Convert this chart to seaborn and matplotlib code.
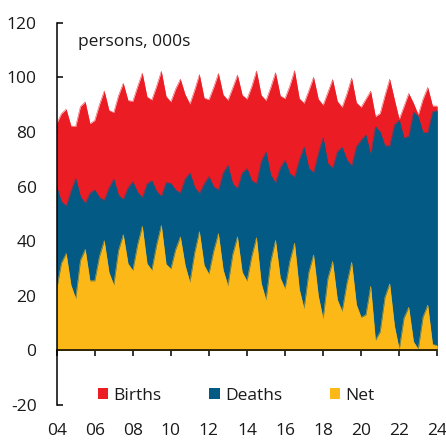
import numpy as np
import pandas as pd
import matplotlib
matplotlib.use("Agg")
import matplotlib.pyplot as plt
import seaborn as sns
from matplotlib.patches import Patch

# Quarterly data, 2004 to 2024 (thousands of persons)
births = [83.0, 86.7, 88.3, 82.2, 82.0, 89.3, 91.0, 83.0, 84.2, 90.0,
          95.0, 87.9, 87.1, 93.3, 97.8, 91.5, 91.2, 96.5, 101.5, 92.8,
          91.7, 96.7, 102.2, 93.0, 91.0, 95.7, 99.3, 93.7, 90.2, 95.3,
          101.0, 92.4, 91.8, 96.3, 101.4, 93.6, 91.6, 96.1, 100.8, 93.5,
          92.0, 96.6, 102.3, 93.4, 91.5, 96.3, 101.7, 93.2, 92.2, 96.8,
          102.4, 92.2, 90.5, 95.1, 100.0, 92.0, 89.8, 94.4, 99.2, 91.2,
          89.0, 93.9, 99.7, 90.7, 89.0, 92.0, 94.9, 85.6, 86.8, 93.3,
          99.3, 91.8, 84.6, 89.3, 94.1, 90.5, 86.2, 92.0, 96.3, 89.5,
          89.5]
deaths = [60.0, 54.5, 52.9, 58.2, 63.0, 56.3, 53.9, 57.6, 58.8, 56.0,
          55.0, 59.5, 62.8, 56.8, 55.3, 59.6, 61.8, 58.0, 56.0, 61.0,
          62.2, 58.3, 56.4, 61.5, 61.2, 58.8, 57.6, 62.8, 65.0, 59.8,
          57.5, 61.0, 63.7, 60.0, 58.7, 65.0, 67.8, 61.0, 59.3, 65.0,
          66.6, 62.2, 61.1, 69.2, 72.7, 64.2, 61.4, 66.9, 69.6, 64.8,
          63.4, 69.8, 74.5, 66.7, 65.1, 72.2, 78.0, 68.5, 66.7, 72.8,
          74.4, 69.8, 67.6, 74.6, 77.0, 78.9, 71.6, 82.0, 80.0, 74.9,
          74.9, 82.6, 84.4, 77.8, 78.4, 87.3, 85.6, 79.8, 79.8, 87.4,
          87.8]
net = [22.5, 32.0, 35.5, 24.0, 19.0, 33.0, 37.0, 25.5, 25.5, 34.5,
       40.2, 28.6, 24.0, 36.6, 42.4, 31.8, 29.3, 38.6, 45.5, 31.8,
       29.4, 38.6, 45.8, 31.6, 29.9, 36.9, 41.6, 31.2, 25.0, 35.7,
       43.5, 31.2, 28.0, 36.4, 42.8, 29.5, 23.7, 35.1, 41.6, 28.7,
       25.4, 34.4, 41.3, 24.6, 18.5, 32.6, 40.3, 26.6, 22.6, 32.6,
       39.3, 22.4, 15.3, 28.6, 35.0, 20.0, 11.6, 26.3, 32.6, 18.6,
       14.3, 24.5, 32.3, 16.8, 12.1, 13.1, 23.5, 3.7, 6.9, 19.5,
       24.4, 9.0, 0.4, 11.9, 15.8, 3.2, 0.5, 12.3, 16.6, 2.2,
       1.8]
series_names = ["Births", "Deaths", "Net"]
xtick_years = list(range(2004, 2025, 2))
xtick_labels = ["04", "06", "08", "10", "12", "14", "16", "18", "20", "22", "24"]
ytick_values = [-20, 0, 20, 40, 60, 80, 100, 120]

colors = {"Births": "#EC1C24", "Deaths": "#035A85", "Net": "#FBB817"}

t = 2004 + np.arange(len(births)) / 4.0
df = pd.DataFrame({"t": t, "Births": births, "Deaths": deaths, "Net": net})

sns.set_theme(style="white")
plt.rcParams["font.family"] = ["Open Sans", "DejaVu Sans"]
FS = 12.5

fig = plt.figure(figsize=(4.46, 4.42), dpi=100)
ax = fig.add_axes([0.127, 0.0837, 0.8534, 0.865])

for name in series_names:
    ax.fill_between(df["t"], 0, df[name], color=colors[name], linewidth=0, zorder=2)
    sns.lineplot(data=df, x="t", y=name, ax=ax, color=colors[name], linewidth=0.3, zorder=2)

ax.set_xlim(2004, 2024)
ax.set_ylim(-20, 120)
ax.set_xlabel("")
ax.set_ylabel("")

for s in ["top", "right"]:
    ax.spines[s].set_visible(False)
ax.spines["left"].set_color("black")
ax.spines["left"].set_linewidth(1.1)
ax.spines["bottom"].set_position(("data", 0))
ax.spines["bottom"].set_color("black")
ax.spines["bottom"].set_linewidth(1.1)
ax.spines["bottom"].set_zorder(5)

ax.set_yticks(ytick_values)
ax.set_yticklabels([str(v) for v in ytick_values])
ax.set_xticks(xtick_years)
ax.set_xticklabels(xtick_labels)
ax.tick_params(axis="y", direction="in", length=4.5, width=1.1, color="black",
               pad=14.5, labelsize=FS, labelcolor="#1a1a1a", left=True)
ax.tick_params(axis="x", direction="out", length=4.3, width=1.1, color="black",
               pad=48, labelsize=FS, labelcolor="#1a1a1a", bottom=True)

ax.text(0.055, 0.949, "persons, 000s", transform=ax.transAxes, ha="left",
        va="center", fontsize=FS, color="#1a1a1a")

handles = [Patch(facecolor=colors[n], edgecolor="none", label=n) for n in series_names]
leg = ax.legend(handles=handles, loc="center left", bbox_to_anchor=(0.1085, 0.0243),
                ncol=3, frameon=False, fontsize=FS, handlelength=0.6, handleheight=0.6,
                handletextpad=0.3, columnspacing=2.75, borderaxespad=0, borderpad=0)
for txt in leg.get_texts():
    txt.set_color("#1a1a1a")

fig.savefig("out.png", dpi=100)
